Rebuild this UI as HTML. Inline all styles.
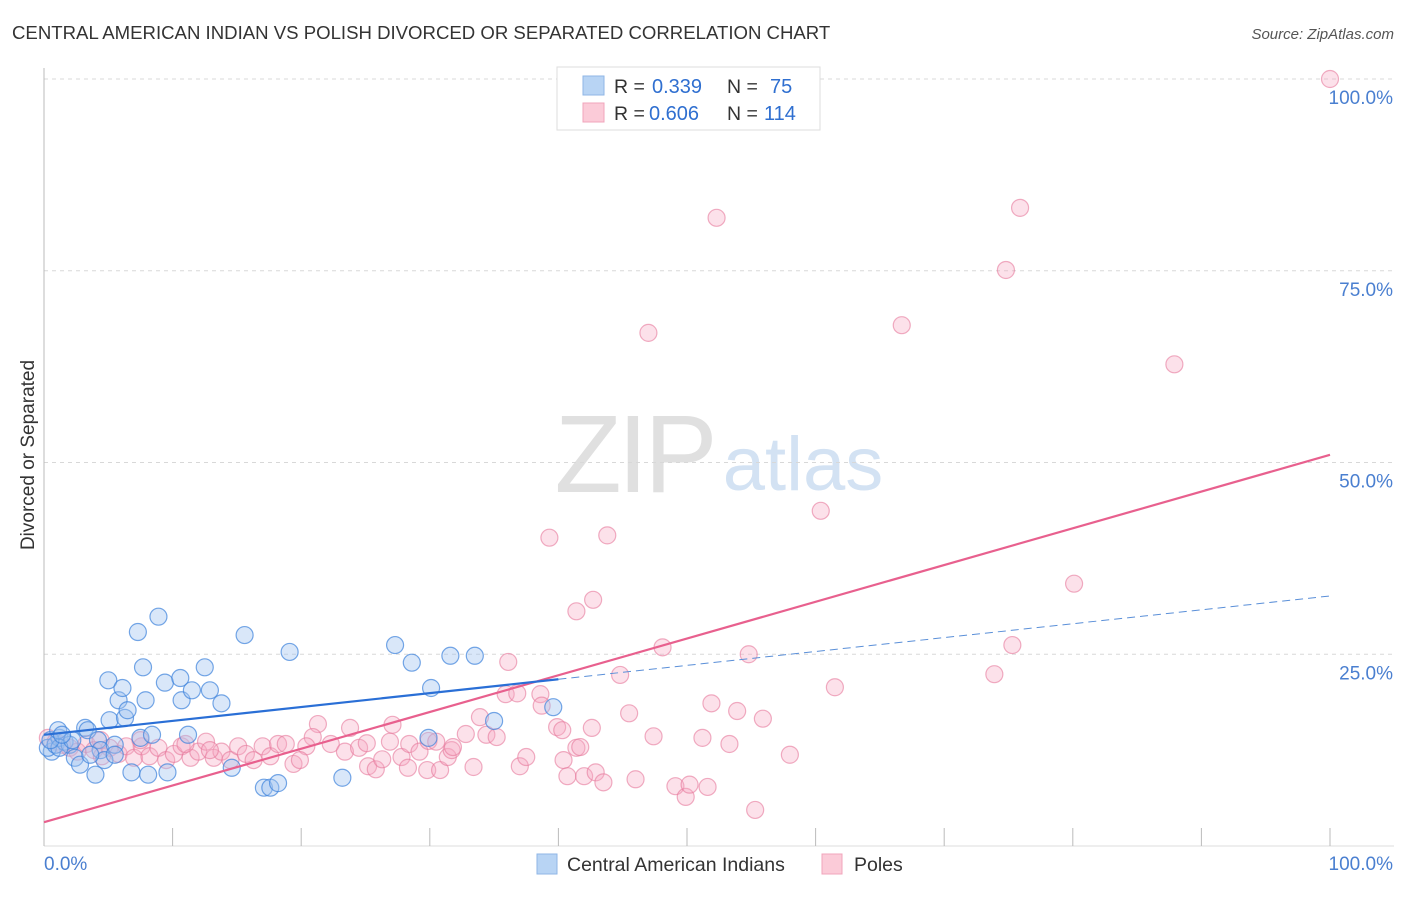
<!DOCTYPE html>
<html><head><meta charset="utf-8">
<style>
body{margin:0;background:#fff;font-family:"Liberation Sans",sans-serif;}
svg text{font-family:"Liberation Sans",sans-serif;}
</style></head>
<body>
<svg id="chart" width="1406" height="892" xmlns="http://www.w3.org/2000/svg">
<text x="12" y="39" font-size="18.6" fill="#333">CENTRAL AMERICAN INDIAN VS POLISH DIVORCED OR SEPARATED CORRELATION CHART</text>
<text x="1394" y="39" font-size="15" fill="#555" font-style="italic" text-anchor="end">Source: ZipAtlas.com</text>
<text transform="translate(34,455) rotate(-90)" font-size="19" fill="#333" text-anchor="middle">Divorced or Separated</text>
<g>
<text x="634" y="492" font-size="110" fill="#e0e0e0" font-family="Liberation Serif" text-anchor="middle" letter-spacing="-4">ZIP</text>
<text x="803" y="490" font-size="76" fill="#d3e2f3" text-anchor="middle">atlas</text>
</g>
<g id="grid"></g>
<g id="axes"></g>
<g id="marks"></g>
<g>
<rect x="557" y="67" width="263" height="63" fill="#fff" stroke="#ddd"/>
<rect x="583" y="76" width="21" height="19" fill="#b8d4f4" stroke="#8fb6e6"/>
<rect x="583" y="103" width="21" height="19" fill="#fbcbd8" stroke="#f0a5bb"/>
<text x="614" y="93" font-size="19.5" fill="#333">R =</text>
<text x="652" y="93" font-size="20" fill="#2f6fd0">0.339</text>
<text x="727" y="93" font-size="19.5" fill="#333">N =</text>
<text x="770" y="93" font-size="20" fill="#2f6fd0">75</text>
<text x="614" y="120" font-size="19.5" fill="#333">R =</text>
<text x="649" y="120" font-size="20" fill="#2f6fd0">0.606</text>
<text x="727" y="120" font-size="19.5" fill="#333">N =</text>
<text x="764" y="120" font-size="20" fill="#2f6fd0">114</text>
</g>
<g>
<rect x="537" y="854" width="20" height="20" fill="#b8d4f4" stroke="#8fb6e6"/>
<text x="567" y="871" font-size="19.5" fill="#333">Central American Indians</text>
<rect x="822" y="854" width="20" height="20" fill="#fbcbd8" stroke="#f0a5bb"/>
<text x="854" y="871" font-size="19.5" fill="#333">Poles</text>
</g>
</svg>
<script>
const yTicks=[25,50,75,100];
const yTickLabels=["25.0%","50.0%","75.0%","100.0%"];
const xTickLabels=["0.0%","100.0%"];
const blueX=[0.6,0.3,0.9,1.2,1.6,2.0,2.4,2.8,3.2,3.4,4.0,4.2,4.4,4.7,5.0,5.1,5.5,5.8,6.1,6.3,6.5,6.8,7.3,7.5,7.7,7.9,8.1,8.4,8.9,9.4,9.6,10.6,10.7,11.2,11.5,12.5,12.9,13.8,14.6,15.6,17.1,17.6,18.2,19.1,23.2,27.3,28.6,29.9,30.1,31.6,33.5,35.0,39.6,1.2,2.2,3.6,5.5,0.5,1.1,1.4];
const blueY=[12.3,12.8,13.2,14.1,13.6,13.2,11.5,10.6,15.4,15.1,9.3,13.8,12.5,11.2,21.6,16.4,13.2,19.0,20.6,16.7,17.7,9.6,27.9,14.1,23.3,19.0,9.3,14.5,29.9,21.3,9.6,21.9,19.0,14.5,20.3,23.3,20.3,18.6,10.2,27.5,7.6,7.6,8.2,25.3,8.9,26.2,23.9,14.1,20.6,24.8,24.8,16.3,18.1,12.8,13.8,11.9,11.9,13.8,15.1,14.5];
const pinkX=[21.3,20.9,23.8,20.4,22.3,23.4,24.5,25.1,25.2,25.8,26.3,26.9,27.1,27.8,28.3,28.4,29.2,29.8,29.9,30.5,30.8,31.4,31.7,31.8,32.8,33.4,33.9,34.4,35.2,35.9,36.1,36.8,37.0,37.5,38.6,38.7,39.9,40.3,40.4,40.7,41.4,41.7,42.0,42.6,42.9,43.5,44.8,45.5,46.0,47.4,48.1,49.1,49.9,50.2,51.2,51.6,51.9,53.3,53.9,54.8,55.3,55.9,58.0,100,52.3,75.9,74.8,66.7,47.0,87.9,60.4,39.3,43.8,80.1,42.7,41.4,75.3,73.9,61.5,
0.3,0.9,1.4,2.0,2.6,3.3,3.9,4.5,5.1,5.8,6.4,7.0,7.6,8.2,8.9,9.5,10.1,10.7,11.4,12.0,12.6,13.2,13.8,14.5,15.1,15.7,16.3,17.0,17.6,18.2,18.8,19.4,19.9,4.4,7.5,11.0,12.9];
const pinkY=[15.9,14.2,15.4,13.0,13.3,12.3,12.8,13.4,10.4,10.0,11.3,13.6,15.8,11.6,10.2,13.3,12.3,9.9,13.7,13.6,9.9,11.6,12.5,12.9,14.6,10.3,16.8,14.5,14.2,19.8,24.0,19.9,10.4,11.6,19.8,18.3,15.5,15.1,11.2,9.1,12.8,12.9,9.1,15.4,9.6,8.3,22.3,17.3,8.7,14.3,25.9,7.8,6.4,8.0,14.1,7.7,18.6,13.3,17.6,25.0,4.7,16.6,11.9,100,81.9,83.2,75.1,67.9,66.9,62.8,43.7,40.2,40.5,34.2,32.1,30.6,26.2,22.4,20.7,
14.1,13.6,13.2,12.8,12.3,13.3,12.5,11.7,12.8,12.0,13.0,11.5,13.0,11.7,12.8,11.2,12.0,13.0,11.5,12.3,13.6,11.5,12.3,11.2,13.0,12.0,11.2,13.0,11.7,13.3,13.3,10.7,11.2,13.8,13.8,13.3,12.5];
const blueFit=[14.5,0.181];  // intercept, slope
const pinkFit=[3.1,0.479];
const blueSolidEnd=40;

const X0=44,X1=1330,Y0=846,Y1=79;
function sx(v){return X0+(X1-X0)*v/100;}
function sy(v){return Y0-(Y0-Y1)*v/100;}
const NS="http://www.w3.org/2000/svg";
function mk(tag,attrs,parent){const e=document.createElementNS(NS,tag);for(const k in attrs)e.setAttribute(k,attrs[k]);parent.appendChild(e);return e;}
const grid=document.getElementById('grid'),axes=document.getElementById('axes'),marks=document.getElementById('marks');
yTicks.forEach((t,i)=>{
 const l=mk('line',{x1:X0,x2:1394,y1:sy(t),y2:sy(t),stroke:'#d8d8d8','stroke-dasharray':'4,4'},grid);
 
 
 const tx=mk('text',{x:1393,y:sy(t)+25,'font-size':19,fill:'#4a7fd0','text-anchor':'end'},axes);
 tx.textContent=yTickLabels[i];
 
 
});
const ax=mk('line',{x1:X0,x2:X0,y1:68,y2:Y0,stroke:'#bbb'},axes);


const bx=mk('line',{x1:X0,x2:1394,y1:Y0,y2:Y0,stroke:'#ddd'},axes);


for(let i=0;i<=10;i++){
 const t=mk('line',{x1:sx(i*10),x2:sx(i*10),y1:828,y2:Y0,stroke:'#bbb'},axes);
 
 
}
const xl0=mk('text',{x:44,y:870,'font-size':19,fill:'#4a7fd0'},axes);xl0.textContent=xTickLabels[0];


const xl1=mk('text',{x:1393,y:870,'font-size':19,fill:'#4a7fd0','text-anchor':'end'},axes);xl1.textContent=xTickLabels[1];



pinkX.forEach((v,i)=>{
 const c=mk('circle',{cx:sx(v),cy:sy(pinkY[i]),r:8.5,fill:'rgba(246,170,195,0.35)',stroke:'rgba(230,120,155,0.6)','stroke-width':1.2},marks);
 
 
});
blueX.forEach((v,i)=>{
 const c=mk('circle',{cx:sx(v),cy:sy(blueY[i]),r:8.5,fill:'rgba(160,196,240,0.4)',stroke:'rgba(60,130,220,0.7)','stroke-width':1.2},marks);
 
 
});
const pl=mk('line',{x1:sx(0),y1:sy(pinkFit[0]),x2:sx(100),y2:sy(pinkFit[0]+pinkFit[1]*100),stroke:'#e8608e','stroke-width':2.2},marks);


const bl=mk('line',{x1:sx(0),y1:sy(blueFit[0]),x2:sx(blueSolidEnd),y2:sy(blueFit[0]+blueFit[1]*blueSolidEnd),stroke:'#2a6fd6','stroke-width':2.2},marks);


const bd=mk('line',{x1:sx(blueSolidEnd),y1:sy(blueFit[0]+blueFit[1]*blueSolidEnd),x2:sx(100),y2:sy(blueFit[0]+blueFit[1]*100),stroke:'#5a8fd8','stroke-width':1,'stroke-dasharray':'8,5'},marks);


</script>
</body></html>
